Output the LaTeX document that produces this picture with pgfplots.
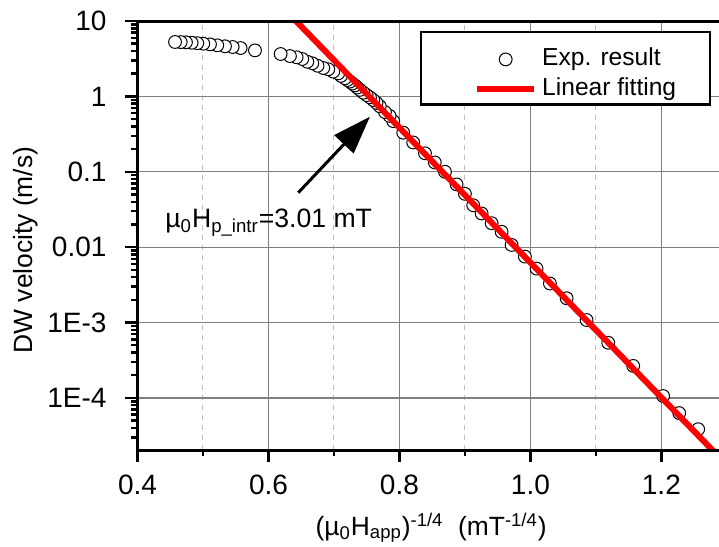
\documentclass[border=0pt]{standalone}
\usepackage{fontspec}
\setmainfont{Liberation Sans}
\usepackage{pgfplots}
\pgfplotsset{compat=1.18}
\usetikzlibrary{arrows.meta}
\pgfplotsset{
  scatleg/.style={legend image code/.code={\path (-9.5pt,0pt) (0pt,11.5pt); \draw[##1,mark repeat=2,mark phase=2] plot coordinates {(0pt,0pt) (14.25pt,0pt) (28.5pt,0pt)};}},
  lineleg/.style={legend image code/.code={\path (-9.5pt,0pt); \draw[##1] (0pt,0pt) -- (28.5pt,0pt);}},
}
\begin{document}
\begin{tikzpicture}
\begin{semilogyaxis}[
  scale only axis, width=290.75pt, height=214.5pt,
  xmin=0.4, xmax=1.288, ymin=2.04e-5, ymax=10,
  clip mode=individual,
  axis x line*=bottom, axis y line*=left,
  axis line style={line width=1.5pt, draw=black},
  tick align=outside,
  xtick={0.4,0.6,0.8,1.0,1.2}, xticklabels={0.4,0.6,0.8,1.0,1.2},
  minor xtick={0.5,0.7,0.9,1.1},
  ytick={1e-4,1e-3,1e-2,1e-1,1,10}, yticklabels={1E-4,1E-3,0.01,0.1,1,10},
  major tick length=6pt, minor tick length=3pt,
  every tick/.style={draw=black, line width=1.2pt},
  xmajorgrids, ymajorgrids, xminorgrids,
  major grid style={draw=black!50, line width=0.6pt, solid},
  minor grid style={draw=black!25, dash pattern=on 2.5pt off 2.5pt, line width=0.5pt},
  ticklabel style={font=\fontsize{14}{16}\selectfont},
  yticklabel style={xshift=-6pt},
  xticklabel style={yshift=-3pt},
  xlabel={(µ\textsubscript{0}H\textsubscript{app})\textsuperscript{-1/4}\ \ (mT\textsuperscript{-1/4})},
  ylabel={DW velocity (m/s)},
  label style={font=\fontsize{13.2}{15}\selectfont},
  xlabel style={at={(axis description cs:0.505,0)}, anchor=base, yshift=-42.5pt},
  ylabel style={at={(axis description cs:-0.1797,0.466)}, anchor=base},
  legend cell align=left,
  legend style={at={(axis description cs:0.4858,0.9767)}, anchor=north west,
    draw=black, line width=1.2pt, inner xsep=17pt, inner ysep=1.5pt,
    row sep=2.9pt, column sep=2.5pt, font=\fontsize{12.3}{14}\selectfont,
    nodes={inner xsep=0pt, inner ysep=0pt, text height=9pt, text depth=3.1pt}},
]
\addplot[only marks, mark=*, mark size=3.2pt,
  mark options={fill=white, draw=black, line width=0.5pt}, scatleg]
coordinates {
(1.2562,3.85e-5) (1.2272,6.3e-5) (1.2027,1.06e-4) (1.157,2.66e-4) (1.1188,5.4e-4)
(1.0858,1.08e-3) (1.0553,2.1e-3) (1.0298,3.3e-3) (1.0094,5.2e-3) (0.9916,7.5e-3)
(0.9713,1.07e-2) (0.956,1.6e-2) (0.9408,2.08e-2) (0.9255,2.8e-2) (0.9127,3.6e-2)
(0.9,5.1e-2) (0.8873,6.8e-2) (0.8695,0.1) (0.854,0.133) (0.839,0.176)
(0.821,0.245) (0.8058,0.33) (0.7905,0.47) (0.785,0.55) (0.7779,0.62)
(0.770,0.74) (0.765,0.82) (0.760,0.895) (0.755,0.97) (0.75,1.04)
(0.745,1.12) (0.7397,1.22) (0.7355,1.31) (0.732,1.40) (0.728,1.48)
(0.7244,1.57) (0.7205,1.65) (0.7168,1.74) (0.7107,1.87) (0.7066,2.02)
(0.699,2.13) (0.6913,2.29) (0.6837,2.38) (0.675,2.55) (0.667,2.75)
(0.6593,2.88) (0.6516,3.13) (0.643,3.30) (0.6328,3.43) (0.6186,3.65)
(0.5794,4.08) (0.5575,4.38) (0.5453,4.52) (0.5336,4.62) (0.5218,4.76)
(0.5107,4.90) (0.5005,5.00) (0.4913,5.08) (0.4827,5.15) (0.4740,5.22)
(0.4660,5.25) (0.4573,5.27)
};
\addlegendentry{Exp. result}
\addplot[red, line width=3pt, lineleg]
coordinates {(0.60,23.76) (1.30,1.291e-5)};
\addlegendentry{Linear fitting}
\draw[line width=1.5pt, -{Triangle[length=19pt,width=13pt]}] (axis cs:0.6455,0.0528) -- (axis cs:0.755,0.538);
\node[anchor=base west, font=\fontsize{13.3}{16}\selectfont, inner sep=0pt] at (axis cs:0.442,0.018) {µ\textsubscript{0}H\textsubscript{p\_intr}=3.01 mT};
\end{semilogyaxis}
% frame (left, bottom, top)
\draw[line width=1.5pt, line cap=rect] (current axis.north east) -- (current axis.north west) -- (current axis.south west) -- (current axis.south east);
% x ticks
\foreach \f in {0,65.48,130.97,196.45,261.94}{\draw[line width=1.2pt] ([xshift=\f pt]current axis.south west) -- ++(0pt,-6pt);}
\foreach \f in {32.74,98.23,163.71,229.19}{\draw[line width=1.2pt] ([xshift=\f pt]current axis.south west) -- ++(0pt,-3pt);}
% y ticks
\foreach \f in {26.02,63.72,101.42,139.11,176.81,214.5}{\draw[line width=1.2pt] ([yshift=\f pt]current axis.south west) -- ++(-6pt,0pt);}
\foreach \b in {-11.67,26.02,63.72,101.42,139.11,176.81}{\foreach \o in {11.35,17.99,22.69,26.35,29.33,31.86,34.04,35.97}{\pgfmathsetmacro\p{\b+\o}\ifdim\p pt>0.5pt \draw[line width=1.2pt] ([yshift=\p pt]current axis.south west) -- ++(-3pt,0pt);\fi}}
\pgfresetboundingbox
\useasboundingbox ([xshift=-68.75pt,yshift=-48.5pt]current axis.south west) rectangle ([yshift=10.5pt]current axis.north east);
\end{tikzpicture}
\end{document}
